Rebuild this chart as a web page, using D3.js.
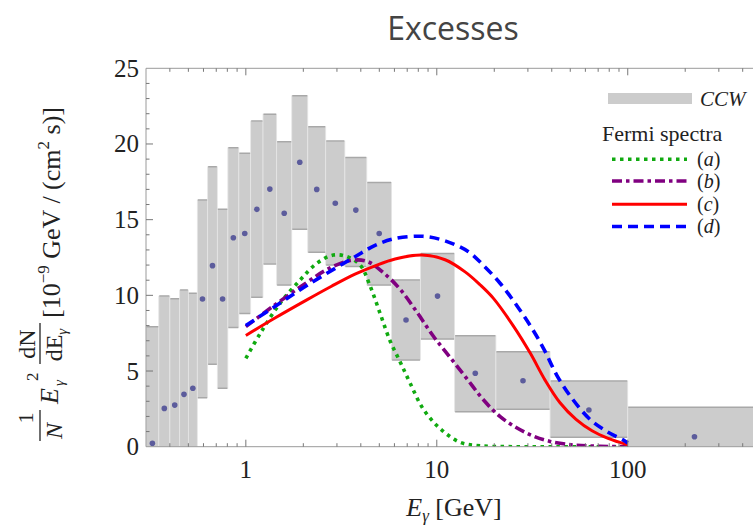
<!DOCTYPE html>
<html>
<head>
<meta charset="utf-8">
<script src="https://cdn.jsdelivr.net/npm/d3@7/dist/d3.min.js"></script>
<style>
  html, body { margin: 0; padding: 0; background: #fff; }
  svg { display: block; }
</style>
</head>
<body>
<svg id="chart" width="753" height="525"></svg>
<script>
// ---------------- DATA ----------------
const binEdges = [0.3, 0.35, 0.4, 0.45, 0.5, 0.557, 0.631, 0.709, 0.805, 0.919, 1.06, 1.23, 1.45, 1.74, 2.11, 2.62, 3.30, 4.30, 5.80, 8.21, 12.4, 20.4, 39.2, 100, 500];
const ccwCentral = [0.22, 2.53, 2.75, 3.46, 3.86, 9.76, 11.96, 9.76, 13.8, 14.09, 15.68, 17.02, 15.42, 18.79, 17.0, 16.08, 15.63, 14.09, 8.37, 9.95, 4.85, 4.36, 2.42, 0.66];
const ccwLow = [0, 0, 0, 0, 0, 3.24, 5.44, 3.86, 7.88, 8.8, 9.87, 12.07, 10.68, 14.36, 12.84, 12.0, 11.9, 10.68, 5.73, 7.11, 2.31, 2.47, 0.62, 0];
const ccwHigh = [7.93, 9.95, 9.78, 10.35, 10.13, 16.3, 18.5, 15.68, 19.75, 19.38, 21.51, 21.97, 20.15, 23.19, 21.14, 20.19, 19.11, 17.46, 11.01, 12.77, 7.33, 6.28, 4.34, 2.6];

const specA_E = [1, 1.19, 1.51, 1.92, 2.35, 2.87, 3.4, 3.97, 4.48, 5.05, 5.69, 6.43, 7.25, 8.48, 10.4, 13.2, 16.9, 25, 40, 70, 100];
const specA_V = [5.84, 7.49, 9.47, 11.0, 12.11, 12.66, 12.55, 12.0, 10.6, 8.8, 7.0, 5.6, 4.2, 2.5, 1.2, 0.3, 0.06, 0.0, 0, 0, 0];
const specB_E = [1, 1.395, 2.086, 2.655, 3.52, 4.30, 5.25, 6.43, 7.86, 9.60, 11.74, 14.36, 17.54, 21.4, 26.2, 32.0, 39.2, 53, 71.6, 100];
const specB_V = [7.93, 9.3, 10.85, 11.7, 12.3, 12.25, 11.5, 10.4, 8.9, 7.3, 5.9, 4.5, 3.1, 2.0, 1.25, 0.7, 0.35, 0.1, 0.03, 0];
const specC_E = [1, 1.42, 2.086, 2.81, 3.73, 4.75, 6.05, 8.35, 11.05, 14.07, 16.85, 19.8, 25.1, 30.8, 36.9, 44.2, 53.6, 65.0, 78.9, 100];
const specC_V = [7.35, 8.5, 9.7, 10.6, 11.4, 11.95, 12.4, 12.66, 12.35, 11.55, 10.7, 9.8, 8.0, 6.2, 4.4, 2.9, 1.8, 1.05, 0.55, 0.12];
const specD_E = [1, 1.395, 2.086, 3.73, 4.75, 6.05, 8.43, 11.05, 14.58, 17.48, 21.45, 26.33, 31.94, 36.9, 42.6, 51.7, 63.5, 77.9, 94.5, 100];
const specD_V = [8.0, 9.2, 10.65, 12.55, 13.3, 13.75, 13.9, 13.6, 12.9, 12.0, 10.8, 9.3, 7.7, 6.3, 4.7, 3.1, 1.8, 1.0, 0.45, 0.25];

const xMajorTicks = [1, 10, 100];
const xTickLabels = ["1", "10", "100"];
const yMajorTicks = [0, 5, 10, 15, 20, 25];
const yTickLabels = ["0", "5", "10", "15", "20", "25"];
const legendLabels = ["a", "b", "c", "d"];

// ---------------- LAYOUT ----------------
const svg = d3.select("#chart");
const W = 753, H = 525;
const plotLeft = 146, plotTop = 68.3, plotBottom = 446.7;
const x = d3.scaleLog().domain([0.3, 500]).range([plotLeft, 245.7 + 191 * Math.log10(500)]);
const y = d3.scaleLinear().domain([0, 25]).range([plotBottom, plotTop]);
const plotRight = x.range()[1];

svg.append("rect").attr("width", W).attr("height", H).attr("fill", "#fff");

svg.append("defs").append("clipPath").attr("id", "clip")
  .append("rect").attr("x", plotLeft).attr("y", plotTop - 2)
  .attr("width", plotRight - plotLeft).attr("height", plotBottom - plotTop + 2);

const plot = svg.append("g").attr("clip-path", "url(#clip)");

// CCW boxes
const bins = ccwCentral.map((c, i) => ({lo: binEdges[i], hi: binEdges[i + 1], c, low: ccwLow[i], high: ccwHigh[i]}));
const boxes = plot.append("g");
boxes.selectAll("rect").data(bins).enter().append("rect")
  .attr("x", d => x(d.lo)).attr("width", d => x(d.hi) - x(d.lo))
  .attr("y", d => y(d.high)).attr("height", d => y(d.low) - y(d.high))
  .attr("fill", "#cccccc").attr("stroke", "#e6e6e6").attr("stroke-width", 0.8);
boxes.selectAll("line.top").data(bins).enter().append("line").attr("class", "top")
  .attr("x1", d => x(d.lo) + 0.5).attr("x2", d => x(d.hi) - 0.5)
  .attr("y1", d => y(d.high)).attr("y2", d => y(d.high))
  .attr("stroke", "#a8a8a8").attr("stroke-width", 1.5);
boxes.selectAll("line.bot").data(bins.filter(d => d.low > 0)).enter().append("line").attr("class", "bot")
  .attr("x1", d => x(d.lo) + 0.5).attr("x2", d => x(d.hi) - 0.5)
  .attr("y1", d => y(d.low)).attr("y2", d => y(d.low))
  .attr("stroke", "#a8a8a8").attr("stroke-width", 1.5);

// central points
plot.append("g").selectAll("circle").data(bins).enter().append("circle")
  .attr("cx", d => x(Math.sqrt(d.lo * d.hi))).attr("cy", d => y(d.c))
  .attr("r", 2.8).attr("fill", "#5c5c9c");

// Fermi spectra
const line = d3.line().x(d => x(d[0])).y(d => y(Math.max(0, d[1]))).curve(d3.curveCatmullRom.alpha(0.5));
const specs = [
  {E: specA_E, V: specA_V, color: "#10aa10", dash: "3.5,4.5", w: 3.6},
  {E: specB_E, V: specB_V, color: "#800080", dash: "10,4,3.5,4", w: 3.6},
  {E: specC_E, V: specC_V, color: "#ff0000", dash: null, w: 3},
  {E: specD_E, V: specD_V, color: "#0000ff", dash: "10,6", w: 3.6}
];
specs.forEach(s => {
  plot.append("path").datum(s.E.map((e, k) => [e, s.V[k]]))
    .attr("d", line).attr("fill", "none")
    .attr("stroke", s.color).attr("stroke-width", s.w)
    .attr("stroke-dasharray", s.dash);
});

// ---------------- FRAME & TICKS ----------------
const frame = svg.append("g");
const frameColor = "#9a9a9a";
frame.append("line").attr("x1", plotLeft).attr("x2", plotRight).attr("y1", plotTop).attr("y2", plotTop).attr("stroke", frameColor);
frame.append("line").attr("x1", plotLeft).attr("x2", plotRight).attr("y1", plotBottom).attr("y2", plotBottom).attr("stroke", frameColor);
frame.append("line").attr("x1", plotLeft).attr("x2", plotLeft).attr("y1", plotTop).attr("y2", plotBottom).attr("stroke", frameColor);

const xAllTicks = x.ticks(30).filter(t => t > 0.3 && t < 500);
const tickColor = "#777";
xAllTicks.forEach(t => {
  const major = xMajorTicks.includes(t);
  const L = major ? 7 : 3.5;
  frame.append("line").attr("x1", x(t)).attr("x2", x(t)).attr("y1", plotBottom).attr("y2", plotBottom - L).attr("stroke", tickColor);
  frame.append("line").attr("x1", x(t)).attr("x2", x(t)).attr("y1", plotTop).attr("y2", plotTop + L).attr("stroke", tickColor);
});
d3.range(1, 25).forEach(v => {
  const major = yMajorTicks.includes(v);
  const L = major ? 7 : 3.5;
  frame.append("line").attr("x1", plotLeft).attr("x2", plotLeft + L).attr("y1", y(v)).attr("y2", y(v)).attr("stroke", tickColor);
});

const serif = "'Liberation Serif', 'Times New Roman', serif";
// tick labels
svg.append("g").selectAll("text").data(xMajorTicks).enter().append("text")
  .attr("x", d => x(d)).attr("y", 478).attr("text-anchor", "middle")
  .attr("font-family", serif).attr("font-size", 25).attr("fill", "#222")
  .text((d, i) => xTickLabels[i]);
svg.append("g").selectAll("text").data(yMajorTicks).enter().append("text")
  .attr("x", 139).attr("y", d => y(d) + 8.5).attr("text-anchor", "end")
  .attr("font-family", serif).attr("font-size", 25).attr("fill", "#222")
  .text((d, i) => yTickLabels[i]);

// ---------------- TITLE ----------------
svg.append("text").attr("x", 453).attr("y", 40).attr("text-anchor", "middle")
  .attr("font-family", "'Open Sans', sans-serif").attr("font-size", 32).attr("fill", "#444")
  .text("Excesses");

// ---------------- X AXIS LABEL ----------------
const xl = svg.append("text").attr("x", 454).attr("y", 516).attr("text-anchor", "middle")
  .attr("font-family", serif).attr("font-size", 26).attr("fill", "#222");
xl.append("tspan").attr("font-style", "italic").text("E");
xl.append("tspan").attr("font-size", 17).attr("font-style", "italic").attr("dy", 5).text("γ");
xl.append("tspan").attr("dy", -5).text(" [GeV]");

// ---------------- Y AXIS LABEL ----------------
const yl = svg.append("g").attr("transform", "rotate(-90)")
  .attr("font-family", serif).attr("fill", "#222");
// 1 / N
yl.append("text").attr("x", -418).attr("y", 33).attr("text-anchor", "middle").attr("font-size", 22).text("1");
yl.append("line").attr("x1", -441).attr("x2", -410).attr("y1", 40).attr("y2", 40).attr("stroke", "#222").attr("stroke-width", 1.3);
yl.append("text").attr("x", -431).attr("y", 62).attr("text-anchor", "middle").attr("font-size", 24).attr("font-style", "italic").text("N");
// E_gamma^2
yl.append("text").attr("x", -404).attr("y", 58).attr("font-size", 26).attr("font-style", "italic").text("E");
yl.append("text").attr("x", -386).attr("y", 64).attr("font-size", 15).attr("font-style", "italic").text("γ");
yl.append("text").attr("x", -381).attr("y", 38).attr("font-size", 17).text("2");
// dN / dE_gamma
yl.append("text").attr("x", -344).attr("y", 35).attr("text-anchor", "middle").attr("font-size", 24).text("dN");
yl.append("line").attr("x1", -364).attr("x2", -323).attr("y1", 40).attr("y2", 40).attr("stroke", "#222").attr("stroke-width", 1.3);
const de = yl.append("text").attr("x", -345).attr("y", 62).attr("text-anchor", "middle").attr("font-size", 24);
de.append("tspan").text("dE");
de.append("tspan").attr("font-size", 15).attr("font-style", "italic").attr("dy", 5).text("γ");
// units
const un = yl.append("text").attr("x", -318).attr("y", 60).attr("font-size", 26);
un.append("tspan").text("[10");
un.append("tspan").attr("font-size", 17).attr("dy", -11).text("−9");
un.append("tspan").attr("dy", 11).text(" GeV / (cm");
un.append("tspan").attr("font-size", 17).attr("dy", -11).text("2");
un.append("tspan").attr("dy", 11).text(" s)]");

// ---------------- LEGEND ----------------
const lg = svg.append("g").attr("font-family", serif).attr("fill", "#222");
lg.append("rect").attr("x", 608).attr("y", 93).attr("width", 84).attr("height", 11).attr("fill", "#cccccc");
lg.append("text").attr("x", 700).attr("y", 106).attr("font-size", 21).attr("font-style", "italic").text("CCW");
lg.append("text").attr("x", 602).attr("y", 141).attr("font-size", 22).text("Fermi spectra");
const legY = [159.3, 181, 204.3, 226.5];
specs.forEach((s, i) => {
  lg.append("line").attr("x1", 612).attr("x2", 687).attr("y1", legY[i]).attr("y2", legY[i])
    .attr("stroke", s.color).attr("stroke-width", s.w).attr("stroke-dasharray", s.dash);
  const t = lg.append("text").attr("x", 697).attr("y", legY[i] + 6.5).attr("font-size", 20);
  t.append("tspan").text("(");
  t.append("tspan").attr("font-style", "italic").text(legendLabels[i]);
  t.append("tspan").text(")");
});
</script>
</body>
</html>
